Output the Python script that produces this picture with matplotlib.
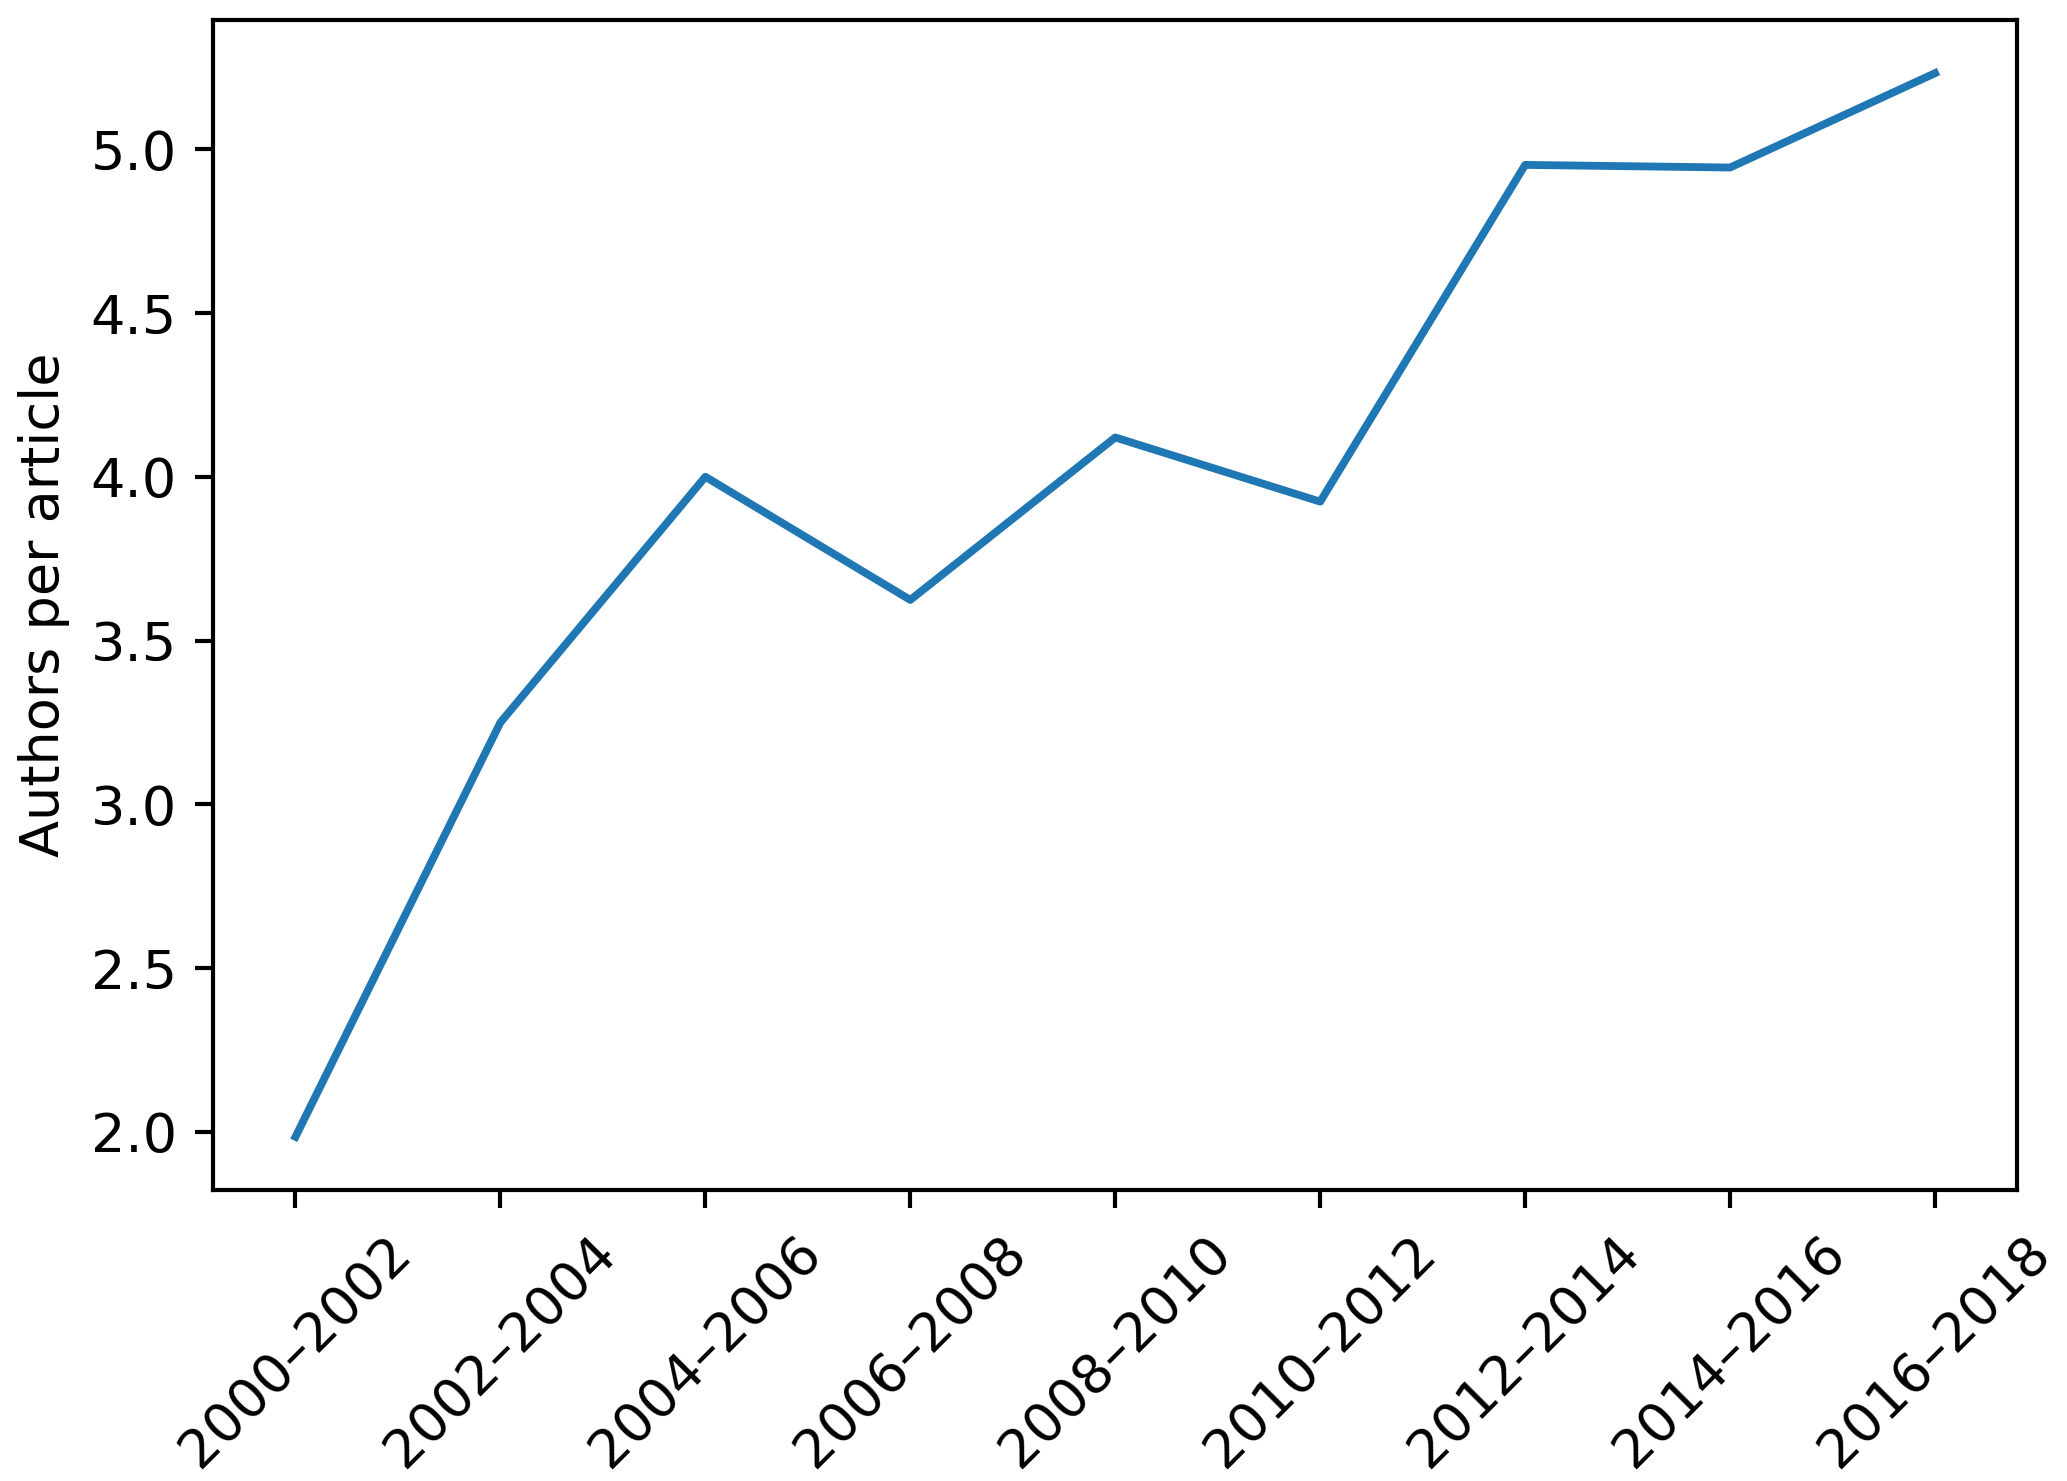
import matplotlib
matplotlib.use("Agg")
import matplotlib.pyplot as plt

periods = ["2000–2002", "2002–2004", "2004–2006", "2006–2008", "2008–2010",
           "2010–2012", "2012–2014", "2014–2016", "2016–2018"]
authors_per_article = [1.985, 3.25, 4.00, 3.624, 4.12, 3.924, 4.952, 4.944, 5.232]

plt.rcParams["font.size"] = 10.4

DPI = 375
fig = plt.figure(figsize=(2067/DPI, 1481/DPI), dpi=DPI)
ax = fig.add_axes([213.5/2067, 1 - 1190/1481, (2017 - 213.5)/2067, (1190 - 20)/1481])
x = list(range(len(periods)))
ax.plot(x, authors_per_article, color="#1f77b4", linewidth=1.5)
ax.set_xticks(x)
ax.set_xticklabels(periods, rotation=45)
ax.set_ylabel("Authors per article")
ax.set_yticks([2.0, 2.5, 3.0, 3.5, 4.0, 4.5, 5.0])
fig.savefig("out.png", dpi=DPI)
